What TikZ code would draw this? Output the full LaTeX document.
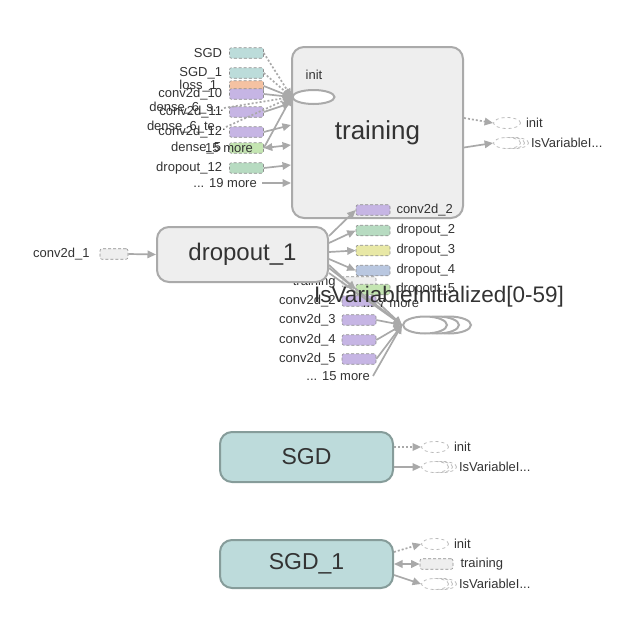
\documentclass[tikz,border=0pt]{standalone}
\usepackage{fontspec}
\setmainfont{Liberation Sans}
\usetikzlibrary{positioning, arrows.meta, shapes.geometric}
\definecolor{txt}{HTML}{333333}
\definecolor{edgec}{HTML}{A9A9A9}
\definecolor{grpline}{HTML}{AAAAAA}
\definecolor{grpfill}{HTML}{EEEEEE}
\definecolor{opline}{HTML}{8E8E8E}
\definecolor{elline}{HTML}{BBBBBB}
\definecolor{opteal}{HTML}{BCDCDA}
\definecolor{oporange}{HTML}{F5C2A2}
\definecolor{oppurple}{HTML}{C6B5E4}
\definecolor{opgreen}{HTML}{B7DBC1}
\definecolor{oplime}{HTML}{C4E5B2}
\definecolor{opyellow}{HTML}{E8E8A6}
\definecolor{opblue}{HTML}{B9C7E0}
\definecolor{sgdfill}{HTML}{BDDBDB}
\definecolor{sgdline}{HTML}{869C9A}

\begin{document}
\begin{tikzpicture}[x=1pt, y=-1pt]
\tikzset{every node/.style={text=txt}, grp/.style={rectangle, rounded corners=12pt, draw=grpline, line width=2pt, fill=grpfill, inner sep=0pt, font=\fontsize{24}{28}\selectfont}, sgd/.style={grp, draw=sgdline, fill=sgdfill, font=\fontsize{23}{26}\selectfont}, iso/.style={ellipse, draw=grpline, line width=2pt, fill=white, minimum width=44pt, minimum height=17pt, inner sep=0pt}, opbox/.style={rectangle, rounded corners=2pt, draw=opline, densely dashed, line width=0.6pt, minimum width=34pt, minimum height=10.5pt, inner sep=0pt}, opell/.style={ellipse, draw=elline, dashed, line width=0.8pt, fill=white, minimum width=27pt, minimum height=11pt, inner sep=0pt}, lbl/.style={font=\fontsize{13}{15}\selectfont, inner sep=0pt}, flow/.style={draw=edgec, line width=1.7pt, -{Triangle[length=8.5pt,width=7.5pt]}}, ctrlflow/.style={flow, dash pattern=on 2pt off 2pt}}
\useasboundingbox (0,0) rectangle (643,621);

% training group and its inputs
\node[grp, minimum width=171pt, minimum height=171pt, font=\fontsize{26}{30}\selectfont] (TR) at (377.5,132.5) {training};
\node[lbl] (TRinl) at (314,75) {init};
\node[iso, minimum width=42pt, minimum height=14pt] (TRini) at (313.5,97) {};
\node[opbox, fill=opteal] (iSGD) at (246.5,53) {};
\node[opbox, fill=opteal] (iSGD1) at (246.5,73) {};
\node[opbox, fill=oporange] (iLoss) at (246.5,86) {};
\node[opbox, fill=oppurple] (iC10) at (246.5,94) {};
\node[opbox, fill=oppurple] (iC11) at (246.5,112) {};
\node[opbox, fill=oppurple] (iC12) at (246.5,132) {};
\node[opbox, fill=oplime] (iD5) at (246.5,148) {};
\node[opbox, fill=opgreen] (iDO12) at (246.5,168) {};
\node[lbl, left=7pt of iSGD] (lSGD) {SGD};
\node[lbl, left=7pt of iSGD1] (lSGD1) {SGD\_1};
\node[lbl, left=12pt of iLoss] (lLoss) {loss\_1};
\node[lbl, left=7pt of iC10] (lC10) {conv2d\_10};
\node[lbl, anchor=east] (lD6s) at (224,108) {dense\_6\_s...};
\node[lbl, left=7pt of iC11] (lC11) {conv2d\_11};
\node[lbl, anchor=east] (lD6t) at (226,127) {dense\_6\_te...};
\node[lbl, left=7pt of iC12] (lC12) {conv2d\_12};
\node[lbl, left=8pt of iD5] (lD5) {dense\_5};
\node[lbl, anchor=west] (lD15) at (205,148) {15 more};
\node[lbl, left=7pt of iDO12] (lDO12) {dropout\_12};
\node[lbl, anchor=east] (lD19) at (257,183) {... 19 more};

\draw[ctrlflow] (iSGD.east) -- (TRini.west);
\draw[ctrlflow] (iSGD1.east) -- (TRini.west);
\draw[ctrlflow] (lD6s.east) -- (TRini.west);
\draw[ctrlflow] (lD6t.east) -- (TRini.west);
\draw[flow] (iLoss.east) -- (TRini.west);
\draw[flow] (iC10.east) -- (TRini.west);
\draw[flow] (iD5.east) -- (TRini.west);
\draw[flow] (iC11.east) -- ([yshift=29.5pt]TR.west);
\draw[flow] (iC12.east) -- ([yshift=7.5pt]TR.west);
\draw[flow, {Triangle[length=8.5pt,width=7.5pt]}-{Triangle[length=8.5pt,width=7.5pt]}] (iD5.east) -- ([yshift=-12.5pt]TR.west);
\draw[flow] (iDO12.east) -- ([yshift=-32.5pt]TR.west);
\draw[flow] ([xshift=5pt]lD19.east) -- ([yshift=-50.5pt]TR.west);

% training outputs
\node[opell] (oTRi) at (507,123) {};
\node[lbl, right=5pt of oTRi] (lTRi) {init};
\node[opell] (oTRv3) at (515,143) {};
\node[opell] (oTRv2) at (511,143) {};
\node[opell] (oTRv) at (507,143) {};
\node[lbl, right=2pt of oTRv3] (lTRv) {IsVariableI...};
\draw[ctrlflow] ([yshift=14.5pt]TR.east) -- (oTRi.west);
\draw[flow] ([yshift=-15pt]TR.east) -- (oTRv.west);

% IsVariableInitialized series and its inputs
\node[iso] (IVc) at (449,325) {};
\node[iso] (IVb) at (437,325) {};
\node[iso] (IVa) at (425,325) {};
\node[opbox, fill=grpfill] (iTrn) at (359,282) {};
\node[opbox, fill=oppurple] (iC2) at (359,301) {};
\node[opbox, fill=oppurple] (iC3) at (359,320) {};
\node[opbox, fill=oppurple] (iC4) at (359,340) {};
\node[opbox, fill=oppurple] (iC5) at (359,359) {};
\node[lbl, left=6pt of iTrn] (lTrn) {training};
\node[lbl, left=6pt of iC2] (lC2) {conv2d\_2};
\node[lbl, left=6pt of iC3] (lC3) {conv2d\_3};
\node[lbl, left=6pt of iC4] (lC4) {conv2d\_4};
\node[lbl, left=6pt of iC5] (lC5) {conv2d\_5};
\node[lbl, anchor=east] (lI15) at (370,376) {... 15 more};
\draw[flow] (iC2.east) -- (IVa.west);
\draw[flow] (iC3.east) -- (IVa.west);
\draw[flow] (iC4.east) -- (IVa.west);
\draw[flow] (iC5.east) -- (IVa.west);
\draw[flow] ([xshift=3pt]lI15.east) -- (IVa.west);

% dropout_1 group, input and outputs
\node[grp, minimum width=171pt, minimum height=55pt] (DO) at (242.5,254.5) {dropout\_1};
\node[opbox, fill=grpfill, minimum width=28pt] (iC1) at (114,254) {};
\node[lbl, left=10pt of iC1] (lC1) {conv2d\_1};
\draw[flow] (iC1.east) -- (DO.west);
\node[opbox, fill=oppurple] (oC2) at (373,210) {};
\node[opbox, fill=opgreen] (oDO2) at (373,230.5) {};
\node[opbox, fill=opyellow] (oDO3) at (373,250.5) {};
\node[opbox, fill=opblue] (oDO4) at (373,270.5) {};
\node[opbox, fill=oplime] (oDO5) at (373,289.5) {};
\node[lbl, right=6pt of oC2] (lC2o) {conv2d\_2};
\node[lbl, right=6pt of oDO2] (lDO2) {dropout\_2};
\node[lbl, right=6pt of oDO3] (lDO3) {dropout\_3};
\node[lbl, right=6pt of oDO4] (lDO4) {dropout\_4};
\node[lbl, right=6pt of oDO5] (lDO5) {dropout\_5};
\node[lbl] (lO7) at (391,303) {... 7 more};
\draw[flow] ([yshift=18.5pt]DO.east) -- (oC2.west);
\draw[flow] ([yshift=11.5pt]DO.east) -- (oDO2.west);
\draw[flow] ([yshift=2.5pt]DO.east) -- (oDO3.west);
\draw[flow] ([yshift=-4.5pt]DO.east) -- (oDO4.west);
\draw[flow] ([yshift=-10.5pt]DO.east) -- (oDO5.west);
\draw[flow] ([yshift=-13.5pt]DO.east) -- (IVa.west);
\draw[flow] ([yshift=-18.5pt]DO.east) -- (IVa.west);
\node[font=\fontsize{22.5}{26}\selectfont, inner sep=0pt] (IVlbl) at (439,297) {IsVariableInitialized[0-59]};

% SGD
\node[sgd, minimum width=173pt, minimum height=50pt] (SG) at (306.5,457) {SGD};
\node[opell] (oSGi) at (435,447) {};
\node[lbl, right=5pt of oSGi] (lSGi) {init};
\node[opell] (oSGv3) at (443,467) {};
\node[opell] (oSGv2) at (439,467) {};
\node[opell] (oSGv) at (435,467) {};
\node[lbl, right=2pt of oSGv3] (lSGv) {IsVariableI...};
\draw[ctrlflow] ([yshift=10pt]SG.east) -- (oSGi.west);
\draw[flow] ([yshift=-10pt]SG.east) -- (oSGv.west);

% SGD_1
\node[sgd, minimum width=173pt, minimum height=48pt] (SG1) at (306.5,564) {SGD\_1};
\node[opell] (oS1i) at (435,544) {};
\node[lbl, right=5pt of oS1i] (lS1i) {init};
\node[opbox, fill=grpfill, minimum width=33pt] (oS1t) at (436.5,564) {};
\node[lbl, right=7pt of oS1t] (lS1t) {training};
\node[opell] (oS1v3) at (443,584) {};
\node[opell] (oS1v2) at (439,584) {};
\node[opell] (oS1v) at (435,584) {};
\node[lbl, right=2pt of oS1v3] (lS1v) {IsVariableI...};
\draw[ctrlflow] ([yshift=12pt]SG1.east) -- (oS1i.west);
\draw[flow, {Triangle[length=8.5pt,width=7.5pt]}-{Triangle[length=8.5pt,width=7.5pt]}] (SG1.east) -- (oS1t.west);
\draw[flow] ([yshift=-11pt]SG1.east) -- (oS1v.west);

\end{tikzpicture}
\end{document}
